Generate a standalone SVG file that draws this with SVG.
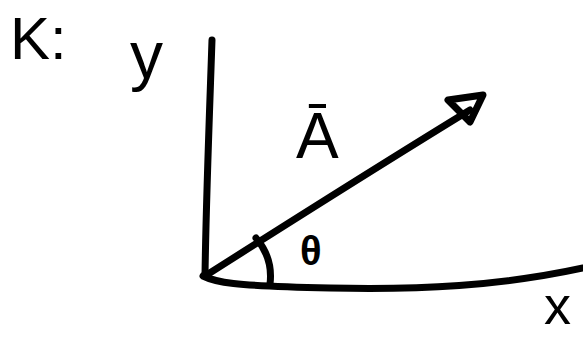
<svg xmlns="http://www.w3.org/2000/svg" width="583" height="339" viewBox="0 0 583 339">
<style>
.ln{fill:none;stroke:#000;stroke-width:7;stroke-linecap:round;stroke-linejoin:round}
.t{font-family:"Liberation Sans","DejaVu Sans",sans-serif;fill:#000}
</style>
<rect width="583" height="339" fill="#fff"/>
<g id="axes">
<path class="ln" d="M212,40 C210,100 206,200 205,276"/>
<path class="ln" d="M203,276 C215,282 230,286 330,288 C420,290 500,286 583,268"/>
</g>
<g id="vector">
<path class="ln" d="M205,276 C290,222 380,165 470,110"/>
<path class="ln" d="M448,100 L483,95 L470,122 Z"/>
</g>
<g id="angle">
<path class="ln" d="M256,238 C268,252 272,268 270,284"/>
</g>
<g id="labels">
<text class="t" x="10" y="59" font-size="60">K:</text>
<text class="t" x="130" y="78" font-size="66">y</text>
<text class="t" x="296" y="158" font-size="64">Ā</text>
<text class="t" x="300" y="265" font-size="40" font-weight="bold">θ</text>
<text class="t" x="544" y="324" font-size="54">x</text>
</g>
</svg>
